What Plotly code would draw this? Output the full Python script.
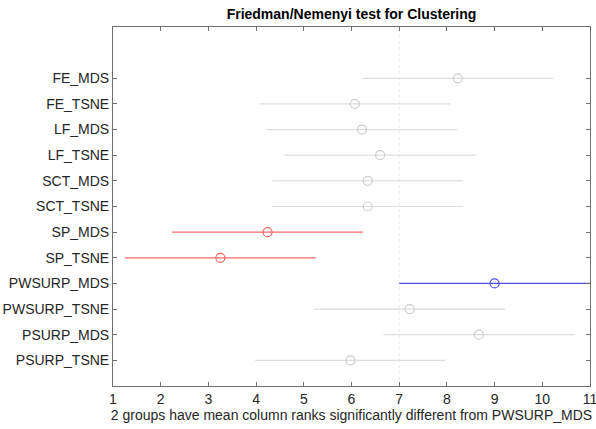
import plotly.graph_objects as go

# Mean column ranks per clustering method (Friedman test), top to bottom
groups = ["FE_MDS", "FE_TSNE", "LF_MDS", "LF_TSNE", "SCT_MDS", "SCT_TSNE",
          "SP_MDS", "SP_TSNE", "PWSURP_MDS", "PWSURP_TSNE", "PSURP_MDS", "PSURP_TSNE"]
mean_ranks = [8.23, 6.07, 6.22, 6.60, 6.34, 6.34, 4.24, 3.25, 9.00, 7.22, 8.67, 5.98]
half_width = 2.0  # Nemenyi critical half-interval
reference = "PWSURP_MDS"
significant = ["SP_MDS", "SP_TSNE"]

x_ticks = list(range(1, 12))

GRAY_LINE = "rgb(222,222,222)"
GRAY_MARK = "rgb(205,205,205)"
RED = "rgb(244,104,104)"
BLUE = "rgb(80,80,235)"

n = len(groups)
ypos = [n - i for i in range(n)]

fig = go.Figure()
for g, m, y in zip(groups, mean_ranks, ypos):
    if g == reference:
        col_l, col_m = BLUE, BLUE
    elif g in significant:
        col_l, col_m = RED, RED
    else:
        col_l, col_m = GRAY_LINE, GRAY_MARK
    fig.add_trace(go.Scatter(
        x=[m - half_width, m + half_width], y=[y, y], mode="lines",
        line=dict(color=col_l, width=1.2), showlegend=False, hoverinfo="skip"))
    fig.add_trace(go.Scatter(
        x=[m], y=[y], mode="markers",
        marker=dict(symbol="circle-open", size=9, color=col_m, line=dict(width=1.2)),
        showlegend=False))

# Dotted guide at the lower bound of the reference group's interval
ref_mean = mean_ranks[groups.index(reference)]
fig.add_shape(type="line", x0=ref_mean - half_width, x1=ref_mean - half_width,
              y0=0, y1=n + 2, xref="x", yref="y",
              line=dict(color="rgb(232,232,232)", width=1, dash="dot"), layer="below")

axis_col = "rgb(110,110,110)"
fig.update_layout(
    width=596, height=429,
    margin=dict(l=113, r=6, t=27, b=43),
    plot_bgcolor="white", paper_bgcolor="white",
    font=dict(family="Liberation Sans, Arial, sans-serif", size=14, color="rgb(38,38,38)"),
    title=dict(text="<b>Friedman/Nemenyi test for Clustering</b>",
               x=0.5, xanchor="center", xref="paper",
               yref="container", y=1 - 14 / 429, yanchor="middle",
               font=dict(size=14, color="rgb(0,0,0)")),
    xaxis=dict(range=[1, 11], tickvals=x_ticks, ticks="inside", ticklen=4,
               tickcolor=axis_col, showline=True, linecolor=axis_col, linewidth=1,
               mirror="allticks", showgrid=False, zeroline=False,
               ticklabeloverflow="allow", automargin=False,
               tickfont=dict(size=14),
               title=dict(text="2 groups have mean column ranks significantly different from " + reference,
                          font=dict(size=14), standoff=2)),
    yaxis=dict(range=[0, n + 2], tickvals=ypos, ticktext=groups, ticks="inside",
               ticklen=4, tickcolor=axis_col, showline=True, linecolor=axis_col,
               linewidth=1, mirror="allticks", showgrid=False, zeroline=False,
               automargin=False, tickfont=dict(size=14)),
)

fig.write_html("out.html")
